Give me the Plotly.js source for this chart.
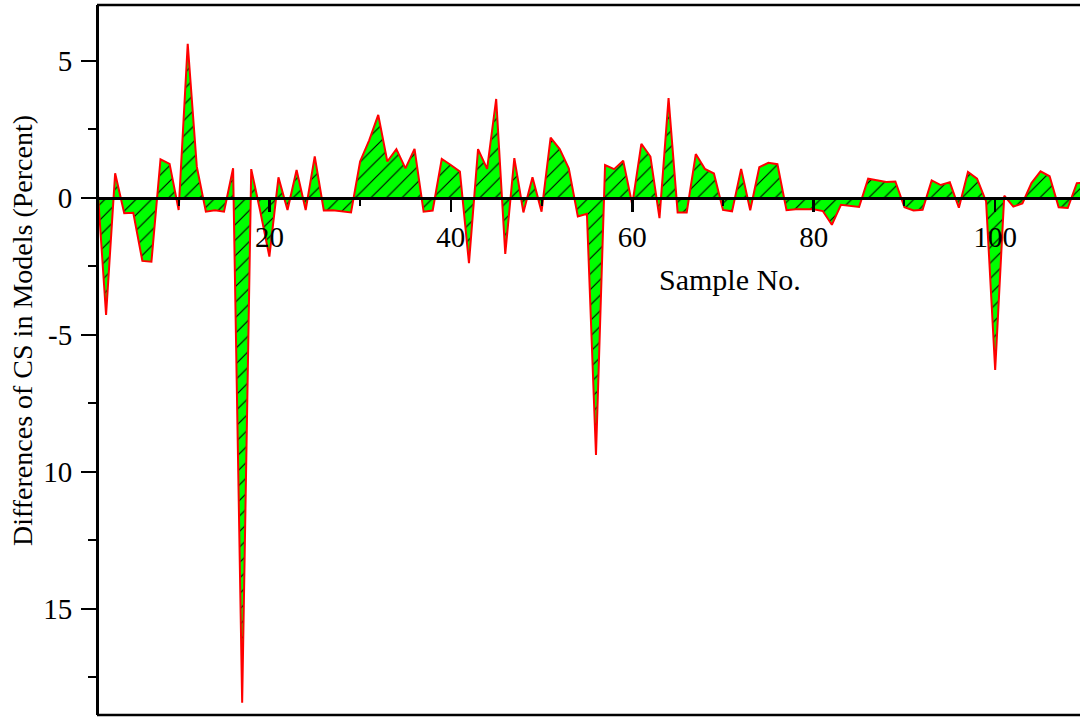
<!DOCTYPE html>
<html>
<head>
<meta charset="utf-8">
<script src="https://cdn.plot.ly/plotly-3.0.1.min.js"></script>
<style>
html,body{margin:0;padding:0;background:#fff;}
#chart{width:1080px;height:717px;}
</style>
</head>
<body>
<div id="chart"></div>
<script>
const sampleNo = [1,2,3,4,5,6,7,8,9,10,11,12,13,14,15,16,17,18,19,20,
  21,22,23,24,25,26,27,28,29,30,31,32,33,34,35,36,37,38,39,40,
  41,42,43,44,45,46,47,48,49,50,51,52,53,54,55,56,57,58,59,60,
  61,62,63,64,65,66,67,68,69,70,71,72,73,74,75,76,77,78,79,80,
  81,82,83,84,85,86,87,88,89,90,91,92,93,94,95,96,97,98,99,100,
  101,102,103,104,105,106,107,108,109,110];
const csDifference = [0.66,-4.27,0.9,-0.56,-0.54,-2.3,-2.33,1.41,1.24,-0.44,
  5.62,1.14,-0.5,-0.45,-0.5,1.08,-18.42,1.05,-0.5,-2.14,
  0.75,-0.44,1.02,-0.44,1.51,-0.46,-0.45,-0.49,-0.53,1.33,
  2.1,3.03,1.33,1.78,1.08,1.79,-0.5,-0.46,1.42,1.2,
  0.96,-2.38,1.78,1.06,3.61,-2.04,1.45,-0.53,0.75,-0.5,
  2.2,1.78,1.08,-0.68,-0.58,-9.38,1.2,1.05,1.36,-0.25,
  1.97,1.51,-0.74,3.64,-0.53,-0.53,1.6,1.06,0.89,-0.44,
  -0.49,1.06,-0.45,1.12,1.28,1.23,-0.45,-0.41,-0.41,-0.41,
  -0.48,-0.98,-0.25,-0.3,-0.33,0.7,0.64,0.58,0.6,-0.34,
  -0.46,-0.43,0.64,0.47,0.57,-0.36,0.95,0.7,-0.13,-6.28,
  0.08,-0.32,-0.2,0.54,0.97,0.79,-0.34,-0.37,0.54,0.55];
const xTickVals = [20,40,60,80,100];
const xTickText = ['20','40','60','80','100'];
const yTickVals = [5,0,-5,-10,-15];
const yTickText = ['5','0','-5','10','15'];
const xTitle = 'Sample No.';
const yTitle = 'Differences of CS in Models (Percent)';

const xRange = [1, 109.35];
const yRange = [-18.87, 7.04];
const zeroPos = (0 - yRange[0]) / (yRange[1] - yRange[0]);
const FONT = 'Liberation Serif, Times New Roman, serif';

const trace = {
  x: sampleNo, y: csDifference, type: 'scatter', mode: 'lines',
  line: {color: '#ff0000', width: 2},
  fill: 'tozeroy', fillcolor: '#00ff00',
  fillpattern: {shape: '/', bgcolor: '#00ff00', fgcolor: '#000000', size: 11, solidity: 0.1},
  hoverinfo: 'x+y', showlegend: false
};

const layout = {
  width: 1080, height: 717,
  margin: {l: 97, r: 0, t: 5, b: 2, pad: 0},
  paper_bgcolor: '#ffffff', plot_bgcolor: '#ffffff',
  font: {family: FONT, size: 28, color: '#000'},
  showlegend: false,
  xaxis: {
    range: xRange, anchor: 'free', position: zeroPos,
    showgrid: false, zeroline: false,
    showline: true, linecolor: '#000', linewidth: 2.8,
    ticks: 'outside', ticklen: 12, tickwidth: 2.5, tickcolor: '#000',
    tickvals: xTickVals, ticktext: xTickText,
    tickfont: {family: FONT, size: 29, color: '#000'},
    ticklabelstandoff: 0,
    minor: {dtick: 10, tick0: 0, ticks: 'outside', ticklen: 6, tickwidth: 2, tickcolor: '#000', showgrid: false}
  },
  yaxis: {
    range: yRange, anchor: 'free', position: 0,
    showgrid: false, zeroline: false,
    showline: true, linecolor: '#000', linewidth: 2.5,
    ticks: 'outside', ticklen: 15, tickwidth: 2.5, tickcolor: '#000',
    tickvals: yTickVals, ticktext: yTickText,
    tickfont: {family: FONT, size: 29, color: '#000'},
    ticklabelstandoff: 3,
    minor: {dtick: 2.5, tick0: 0, ticks: 'outside', ticklen: 8, tickwidth: 2, tickcolor: '#000', showgrid: false}
  },
  shapes: [
    {type: 'line', xref: 'paper', yref: 'paper', x0: 0, x1: 1, y0: 1, y1: 1, line: {color: '#000', width: 2.5}},
    {type: 'line', xref: 'paper', yref: 'paper', x0: 0, x1: 1, y0: 0, y1: 0, line: {color: '#000', width: 2.5}}
  ],
  annotations: [
    {text: xTitle, xref: 'x', yref: 'y', x: 70.8, y: -2.96, showarrow: false,
     xanchor: 'center', yanchor: 'middle', font: {family: FONT, size: 30, color: '#000'}},
    {text: yTitle, xref: 'paper', yref: 'paper', x: 0, y: 0.5408, xshift: -75, textangle: -90,
     showarrow: false, xanchor: 'center', yanchor: 'middle', font: {family: FONT, size: 28, color: '#000'}}
  ]
};

Plotly.newPlot('chart', [trace], layout, {displayModeBar: false, staticPlot: true});
</script>
</body>
</html>
